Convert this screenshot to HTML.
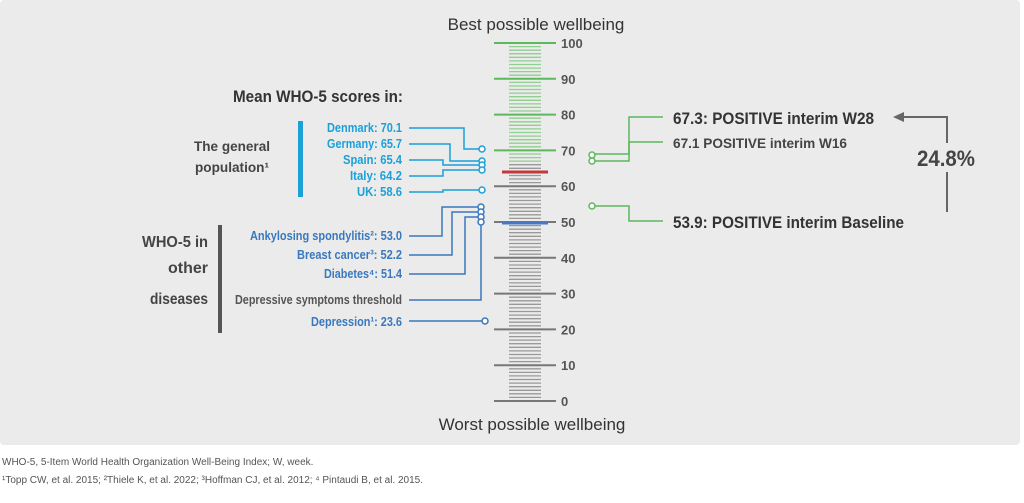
<!DOCTYPE html>
<html><head><meta charset="utf-8"><style>
body{margin:0;background:#fff;width:1024px;height:498px;overflow:hidden}
text{font-family:"Liberation Sans",sans-serif}
</style></head><body>
<svg id="s" width="1024" height="498" xmlns="http://www.w3.org/2000/svg">
<rect x="0" y="0" width="1020" height="445" rx="4" fill="#ebebeb"/>
<g id="ticks"></g>
<text x="536" y="30" text-anchor="middle" font-size="17" fill="#333">Best possible wellbeing</text>
<text x="532" y="430" text-anchor="middle" font-size="17" fill="#333">Worst possible wellbeing</text>
<text x="233" y="102" font-size="17" font-weight="bold" fill="#333" textLength="170" lengthAdjust="spacingAndGlyphs">Mean WHO-5 scores in:</text>
<text x="232" y="151" text-anchor="middle" font-size="14" font-weight="bold" fill="#444" textLength="76" lengthAdjust="spacingAndGlyphs">The general</text>
<text x="232" y="172" text-anchor="middle" font-size="14" font-weight="bold" fill="#444" textLength="74" lengthAdjust="spacingAndGlyphs">population¹</text>
<rect x="298" y="121" width="5" height="76" fill="#1ba0d8"/>
<rect x="218" y="225" width="4" height="108" fill="#555"/>
<text x="208" y="247" text-anchor="end" font-size="16" font-weight="bold" fill="#444" textLength="66" lengthAdjust="spacingAndGlyphs">WHO-5 in</text>
<text x="208" y="273" text-anchor="end" font-size="16" font-weight="bold" fill="#444">other</text>
<text x="208" y="304" text-anchor="end" font-size="16" font-weight="bold" fill="#444" textLength="58" lengthAdjust="spacingAndGlyphs">diseases</text>
<g font-size="12.5" font-weight="bold" text-anchor="end" fill="#1ba0d8">
<text x="402" y="132" textLength="75" lengthAdjust="spacingAndGlyphs">Denmark: 70.1</text>
<text x="402" y="148" textLength="75" lengthAdjust="spacingAndGlyphs">Germany: 65.7</text>
<text x="402" y="164" textLength="59" lengthAdjust="spacingAndGlyphs">Spain: 65.4</text>
<text x="402" y="180" textLength="52" lengthAdjust="spacingAndGlyphs">Italy: 64.2</text>
<text x="402" y="196" textLength="45" lengthAdjust="spacingAndGlyphs">UK: 58.6</text>
</g>
<g font-size="12.5" font-weight="bold" text-anchor="end" fill="#3a78bd">
<text x="402" y="240" textLength="152" lengthAdjust="spacingAndGlyphs">Ankylosing spondylitis²: 53.0</text>
<text x="402" y="259" textLength="105" lengthAdjust="spacingAndGlyphs">Breast cancer³: 52.2</text>
<text x="402" y="278" textLength="78" lengthAdjust="spacingAndGlyphs">Diabetes⁴: 51.4</text>
<text x="402" y="304" fill="#555" textLength="167" lengthAdjust="spacingAndGlyphs">Depressive symptoms threshold</text>
<text x="402" y="326" textLength="91" lengthAdjust="spacingAndGlyphs">Depression¹: 23.6</text>
</g>
<g fill="none" stroke="#1ba0d8" stroke-width="1.5">
<polyline points="409,128 464,128 464,149 479,149"/>
<polyline points="409,144 450,144 450,161 479,161"/>
<polyline points="409,160 443,160 443,165 479,165"/>
<polyline points="409,176 443,176 443,170 479,170"/>
<polyline points="409,192 443,192 443,190 479,190"/>
</g>
<g fill="none" stroke="#3a78bd" stroke-width="1.5">
<polyline points="409,236 442,236 442,207 479,207"/>
<polyline points="409,255 452,255 452,212 479,212"/>
<polyline points="409,274 465,274 465,217 479,217"/>
<polyline points="409,300 481,300 481,225"/>
<polyline points="409,321 482,321"/>
</g>
<g fill="#fff" stroke-width="1.5">
<circle cx="482" cy="149" r="3" stroke="#1ba0d8"/><circle cx="482" cy="161" r="3" stroke="#1ba0d8"/>
<circle cx="482" cy="165" r="3" stroke="#1ba0d8"/><circle cx="482" cy="170" r="3" stroke="#1ba0d8"/>
<circle cx="482" cy="190" r="3" stroke="#1ba0d8"/>
<circle cx="481" cy="207" r="3" stroke="#3a78bd"/><circle cx="481" cy="212" r="3" stroke="#3a78bd"/>
<circle cx="481" cy="217" r="3" stroke="#3a78bd"/><circle cx="481" cy="222" r="3" stroke="#3a78bd"/>
<circle cx="485" cy="321" r="3" stroke="#3a78bd"/>
</g>
<g fill="none" stroke="#5cb85c" stroke-width="1.5">
<polyline points="595,154 629,154 629,117 663,117"/>
<polyline points="595,161 629,161 629,142 663,142"/>
<polyline points="595,206 629,206 629,221 663,221"/>
</g>
<g fill="#fff" stroke="#5cb85c" stroke-width="1.5">
<circle cx="592" cy="155" r="3"/><circle cx="592" cy="161" r="3"/><circle cx="592" cy="206" r="3"/>
</g>
<text x="673" y="124" font-size="17" font-weight="bold" fill="#333" textLength="201" lengthAdjust="spacingAndGlyphs">67.3: POSITIVE interim W28</text>
<text x="673" y="148" font-size="14" font-weight="bold" fill="#444" textLength="174" lengthAdjust="spacingAndGlyphs">67.1 POSITIVE interim W16</text>
<text x="673" y="228" font-size="17" font-weight="bold" fill="#333" textLength="231" lengthAdjust="spacingAndGlyphs">53.9: POSITIVE interim Baseline</text>
<g stroke="#666" stroke-width="2" fill="none">
<polyline points="947,143 947,117 902,117"/>
<line x1="947" y1="172" x2="947" y2="212"/>
</g>
<polygon points="893,117 904,112 904,122" fill="#666"/>
<text x="946" y="166" text-anchor="middle" font-size="22" font-weight="bold" fill="#444" textLength="58" lengthAdjust="spacingAndGlyphs">24.8%</text>
<text x="2" y="465" font-size="10" fill="#555">WHO-5, 5-Item World Health Organization Well-Being Index; W, week.</text>
<text x="2" y="483" font-size="10" fill="#555">¹Topp CW, et al. 2015; ²Thiele K, et al. 2022; ³Hoffman CJ, et al. 2012; ⁴ Pintaudi B, et al. 2015.</text>
</svg>
<script>
var g=document.getElementById('ticks'),h='';
for(var v=0;v<=100;v++){var y=(401-3.58*v).toFixed(1);var gr=v>=67;
if(v%10==0){var c=v>=70?'#5cb85c':'#777';h+='<line x1="494" x2="556" y1="'+y+'" y2="'+y+'" stroke="'+c+'" stroke-width="2"/>';
h+='<text x="561" y="'+(+y+5)+'" font-size="13" font-weight="bold" fill="#555">'+v+'</text>';}
else h+='<line x1="509" x2="541" y1="'+y+'" y2="'+y+'" stroke="'+(gr?'#8fcf8f':'#999')+'" stroke-width="1.3"/>';}
h+='<line x1="502" x2="548" y1="172" y2="172" stroke="#c0393b" stroke-width="3"/>';
h+='<line x1="502" x2="548" y1="223" y2="223" stroke="#4a78c0" stroke-width="3"/>';
g.innerHTML=h;
</script>
</body></html>
